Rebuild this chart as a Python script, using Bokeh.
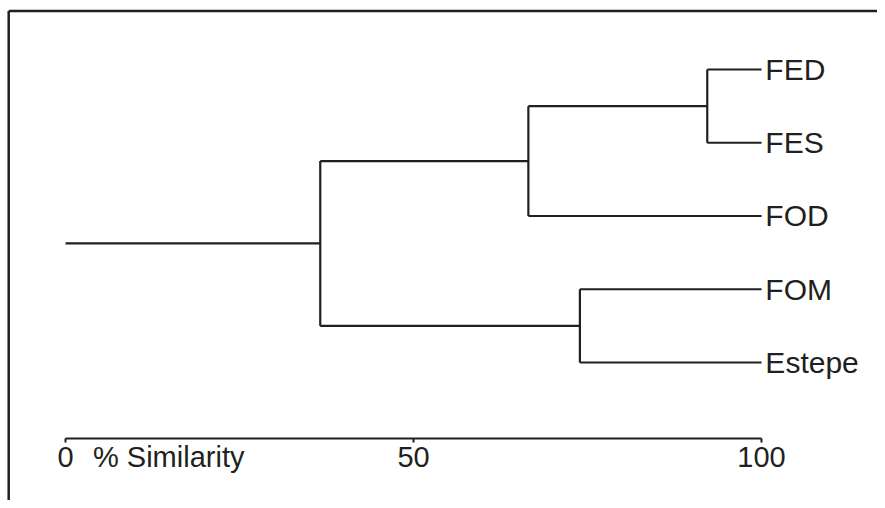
from bokeh.plotting import figure
from bokeh.models import LinearAxis, FixedTicker, Range1d
from bokeh.core.properties import value
from bokeh.embed import file_html
from bokeh.resources import INLINE

# ---- data ----
leaves = ["FED", "FES", "FOD", "FOM", "Estepe"]
leaf_pos = [4, 3, 2, 1, 0]
# merges: (left cluster, right cluster, % similarity at join)
merges = [
    ("FED", "FES", 92.2),
    ("FOM", "Estepe", 73.9),
    ("C0", "FOD", 66.5),
    ("C2", "C1", 36.6),
]
ticks = [0, 50, 100]
tick_labels = {0: "0", 50: "50", 100: "100"}
axis_title = "% Similarity"

INK = "#231f20"
FONT = "Liberation Sans"

# ---- geometry of clusters ----
pos = {name: (100.0, float(y)) for name, y in zip(leaves, leaf_pos)}
xs0, ys0, xs1, ys1 = [], [], [], []
for i, (a, b, s) in enumerate(merges):
    xa, ya = pos[a]
    xb, yb = pos[b]
    xs0 += [s, s]; ys0 += [ya, yb]; xs1 += [xa, xb]; ys1 += [ya, yb]
    xs0.append(s); ys0.append(ya); xs1.append(s); ys1.append(yb)
    pos["C%d" % i] = (s, (ya + yb) / 2.0)
root_x, root_y = pos["C%d" % (len(merges) - 1)]
xs0.append(0); ys0.append(root_y); xs1.append(root_x); ys1.append(root_y)

p = figure(width=877, height=500, output_backend="svg", toolbar_location=None,
           x_range=Range1d(-9.339, 116.66), y_range=Range1d(-1.884, 4.942),
           x_axis_location=None, y_axis_location=None, min_border=0)
p.outline_line_color = None
p.grid.visible = False
p.background_fill_color = "white"
p.border_fill_color = "white"

# frame (top and left edges of a box)
p.segment(x0=[-8.16, -8.16], y0=[4.80, 4.80], x1=[117.0, -8.16], y1=[4.80, -2.0],
          line_color=INK, line_width=2.5)

p.segment(x0=xs0, y0=ys0, x1=xs1, y1=ys1, line_color=INK, line_width=2.2)

p.text(x=[100.55] * len(leaves), y=leaf_pos, text=leaves, text_font=value(FONT),
       text_font_size="30px", text_baseline="middle", text_align="left", text_color=INK)

ax = LinearAxis(fixed_location=-1.04, bounds=(0, 100), ticker=FixedTicker(ticks=ticks),
                major_label_overrides=tick_labels,
                major_tick_in=0, major_tick_out=4, minor_tick_line_color=None,
                axis_line_color=INK, axis_line_width=2.2, major_tick_line_color=INK,
                major_tick_line_width=2, major_label_text_font=FONT,
                major_label_text_font_size="29px", major_label_text_color=INK,
                major_label_standoff=4)
p.add_layout(ax, "below")

p.text(x=[3.95], y=[-1.285], text=[axis_title], text_font=value(FONT),
       text_font_size="29px", text_baseline="middle", text_align="left", text_color=INK)

open("out.html", "w").write(file_html(p, INLINE))
